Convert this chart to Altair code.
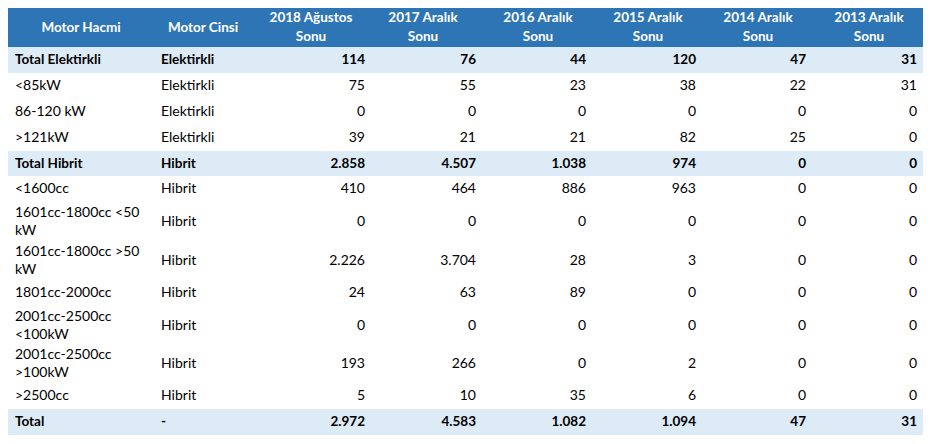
import altair as alt
import pandas as pd

# ---------------- data ----------------
motor_hacmi = ["Total Elektirkli", "<85kW", "86-120 kW", ">121kW", "Total Hibrit", "<1600cc",
               "1601cc-1800cc <50\nkW", "1601cc-1800cc >50\nkW", "1801cc-2000cc",
               "2001cc-2500cc\n<100kW", "2001cc-2500cc\n>100kW", ">2500cc", "Total"]
motor_cinsi = ["Elektirkli", "Elektirkli", "Elektirkli", "Elektirkli", "Hibrit", "Hibrit",
               "Hibrit", "Hibrit", "Hibrit", "Hibrit", "Hibrit", "Hibrit", "-"]
v2018 = [114, 75, 0, 39, 2858, 410, 0, 2226, 24, 0, 193, 5, 2972]
v2017 = [76, 55, 0, 21, 4507, 464, 0, 3704, 63, 0, 266, 10, 4583]
v2016 = [44, 23, 0, 21, 1038, 886, 0, 28, 89, 0, 0, 35, 1082]
v2015 = [120, 38, 0, 82, 974, 963, 0, 3, 0, 0, 2, 6, 1094]
v2014 = [47, 22, 0, 25, 0, 0, 0, 0, 0, 0, 0, 0, 47]
v2013 = [31, 31, 0, 0, 0, 0, 0, 0, 0, 0, 0, 0, 31]
headers = ["Motor Hacmi", "Motor Cinsi", "2018 Ağustos\nSonu", "2017 Aralık\nSonu",
           "2016 Aralık\nSonu", "2015 Aralık\nSonu", "2014 Aralık\nSonu", "2013 Aralık\nSonu"]

# ---------------- layout / style ----------------
W, H = 917, 428
HEADER_H = 39
row_heights = [26, 26, 26, 26, 25, 26, 40, 38, 26, 39, 38, 26, 26]
TABLE_RIGHT = 915
header_x = [73, 195, 303, 415, 530, 640, 750, 861]
left_x = [7, 153]
right_x = [357, 468, 578, 688, 798, 909]
BLUE = "#2E75B6"
BAND = "#DDEBF7"
FONT = "Lato"
FS_REG = 14
FS_BOLD = 13.5
LH_BODY = 18
LH_HEAD = 19

def fmt(v):
    return f"{v:,}".replace(",", ".")

def top_line_y(center, text, lh):
    n = text.count("\n") + 1
    return center - (n - 1) * lh / 2

value_cols = [v2018, v2017, v2016, v2015, v2014, v2013]

tops = []
t = HEADER_H
for h in row_heights:
    tops.append(t)
    t += h

bg = [{"y": 0, "y2": HEADER_H, "kind": "header"}]
cells = []
for i, name in enumerate(motor_hacmi):
    total = name.startswith("Total")
    yc = tops[i] + row_heights[i] / 2
    if total:
        bg.append({"y": tops[i], "y2": tops[i] + row_heights[i], "kind": "total"})
    cells.append({"x": left_x[0], "y": top_line_y(yc, name, LH_BODY), "text": name, "bold": total, "align": "left"})
    cells.append({"x": left_x[1], "y": yc, "text": motor_cinsi[i], "bold": total, "align": "left"})
    for j, col in enumerate(value_cols):
        cells.append({"x": right_x[j], "y": yc, "text": fmt(col[i]), "bold": total, "align": "right"})

hdr = pd.DataFrame({"x": header_x,
                    "y": [top_line_y(HEADER_H / 2, h, LH_HEAD) for h in headers],
                    "text": headers})
bg_df = pd.DataFrame(bg)
cells_df = pd.DataFrame(cells)

xs = alt.Scale(domain=[0, W], nice=False, zero=False)
ys = alt.Scale(domain=[0, H], nice=False, zero=False, reverse=True)

rects = alt.Chart(bg_df).mark_rect().encode(
    x=alt.value(0), x2=alt.value(TABLE_RIGHT),
    y=alt.Y("y:Q", scale=ys, axis=None), y2="y2:Q",
    color=alt.Color("kind:N", scale=alt.Scale(domain=["header", "total"], range=[BLUE, BAND]), legend=None),
)

header_text = alt.Chart(hdr).mark_text(
    align="center", baseline="middle", font=FONT, fontSize=FS_BOLD, fontWeight="bold",
    color="white", lineBreak="\n", lineHeight=LH_HEAD,
).encode(x=alt.X("x:Q", scale=xs, axis=None), y=alt.Y("y:Q", scale=ys, axis=None), text="text:N")

def body(align, bold):
    return alt.Chart(cells_df).transform_filter(
        (alt.datum.align == align) & (alt.datum.bold == bold)
    ).mark_text(
        align=align, baseline="middle", font=FONT, fontSize=FS_BOLD if bold else FS_REG,
        fontWeight="bold" if bold else "normal", color="black", lineBreak="\n", lineHeight=LH_BODY,
    ).encode(x=alt.X("x:Q", scale=xs, axis=None), y=alt.Y("y:Q", scale=ys, axis=None), text="text:N")

chart = alt.layer(
    rects, header_text,
    body("left", False), body("left", True), body("right", False), body("right", True),
).properties(
    width=W, height=H, padding=0,
    autosize=alt.AutoSizeParams(type="fit", contains="padding"),
).configure_view(stroke=None)

chart.save("out.html", embed_options={"renderer": "svg", "actions": False})
